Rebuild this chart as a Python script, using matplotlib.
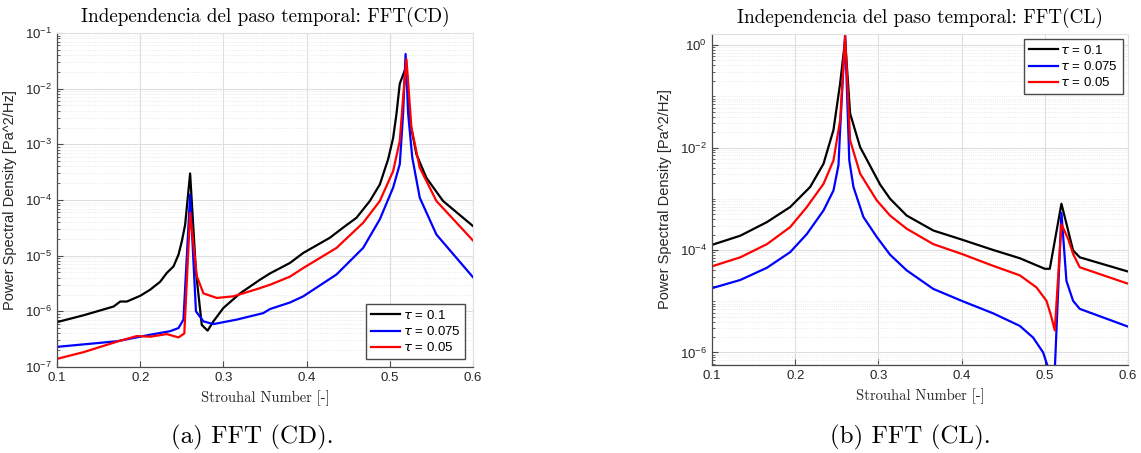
import numpy as np
import matplotlib
matplotlib.use("Agg")
import matplotlib.pyplot as plt
from matplotlib.ticker import FixedLocator, LogLocator, LogFormatterSciNotation, NullFormatter

#################
# DATA
#################

# FFT(CD)
st_cd_01 = [0.100, 0.132, 0.168, 0.176, 0.184, 0.200, 0.212, 0.224, 0.232, 0.240, 0.246, 0.250,
            0.254, 0.260, 0.267, 0.274, 0.281, 0.288, 0.300, 0.320, 0.344, 0.356, 0.380, 0.396,
            0.428, 0.444, 0.460, 0.476, 0.488, 0.498, 0.504, 0.508, 0.512, 0.518, 0.520, 0.524,
            0.532, 0.544, 0.564, 0.600]
psd_cd_01 = [6.4e-7, 8.5e-7, 1.22e-6, 1.5e-6, 1.5e-6, 1.9e-6, 2.45e-6, 3.4e-6, 4.9e-6, 6.4e-6,
             1.04e-5, 1.8e-5, 3.6e-5, 3.0e-4, 5.2e-6, 5.7e-7, 4.5e-7, 6.6e-7, 1.15e-6, 2.1e-6,
             3.7e-6, 4.8e-6, 7.4e-6, 1.12e-5, 2.1e-5, 3.2e-5, 4.8e-5, 9.6e-5, 1.9e-4, 5.4e-4,
             1.3e-3, 3.5e-3, 1.23e-2, 2.13e-2, 2.6e-2, 2.7e-3, 6.6e-4, 2.5e-4, 9.6e-5, 3.4e-5]

st_cd_0075 = [0.100, 0.132, 0.172, 0.212, 0.236, 0.246, 0.252, 0.260, 0.267, 0.276, 0.288, 0.316,
              0.348, 0.356, 0.380, 0.396, 0.436, 0.468, 0.488, 0.504, 0.512, 0.516, 0.519, 0.522,
              0.527, 0.536, 0.556, 0.600]
psd_cd_0075 = [2.3e-7, 2.55e-7, 2.9e-7, 3.8e-7, 4.4e-7, 5.0e-7, 7.1e-7, 1.26e-4, 1.0e-6, 6.6e-7,
               5.9e-7, 7.1e-7, 9.3e-7, 1.1e-6, 1.44e-6, 1.86e-6, 4.6e-6, 1.38e-5, 4.5e-5, 1.67e-4,
               4.4e-4, 3.6e-3, 4.2e-2, 3.6e-3, 5.8e-4, 1.1e-4, 2.4e-5, 4.1e-6]

st_cd_005 = [0.100, 0.132, 0.172, 0.196, 0.212, 0.232, 0.246, 0.253, 0.260, 0.268, 0.276, 0.292,
             0.312, 0.340, 0.356, 0.380, 0.396, 0.436, 0.468, 0.488, 0.504, 0.512, 0.516, 0.520,
             0.526, 0.536, 0.556, 0.600]
psd_cd_005 = [1.4e-7, 1.85e-7, 2.85e-7, 3.6e-7, 3.5e-7, 3.9e-7, 3.4e-7, 4.0e-7, 5.9e-5, 4.3e-6,
              2.1e-6, 1.74e-6, 1.86e-6, 2.5e-6, 3.0e-6, 4.2e-6, 6.0e-6, 1.38e-5, 3.9e-5, 9.6e-5,
              3.3e-4, 1.15e-3, 7.0e-3, 3.4e-2, 2.0e-3, 3.8e-4, 9.6e-5, 1.87e-5]

# FFT(CL)
st_cl_01 = [0.100, 0.134, 0.166, 0.194, 0.218, 0.234, 0.246, 0.254, 0.260, 0.266, 0.278, 0.302,
            0.314, 0.334, 0.366, 0.400, 0.438, 0.470, 0.500, 0.506, 0.520, 0.534, 0.542, 0.600]
psd_cl_01 = [1.26e-4, 1.9e-4, 3.5e-4, 6.9e-4, 1.7e-3, 4.8e-3, 2.2e-2, 0.178, 1.25, 4.6e-2,
             1.02e-2, 1.9e-3, 1.0e-3, 4.7e-4, 2.4e-4, 1.6e-4, 1.0e-4, 6.9e-5, 4.3e-5, 4.3e-5,
             8.0e-4, 9.8e-5, 7.2e-5, 3.8e-5]

st_cl_0075 = [0.100, 0.134, 0.166, 0.194, 0.214, 0.234, 0.246, 0.252, 0.254, 0.260, 0.265, 0.270,
              0.282, 0.298, 0.314, 0.334, 0.366, 0.400, 0.438, 0.470, 0.486, 0.498, 0.505, 0.512,
              0.520, 0.526, 0.534, 0.542, 0.600]
psd_cl_0075 = [1.8e-5, 2.6e-5, 4.5e-5, 9.1e-5, 2.05e-4, 5.9e-4, 1.45e-3, 4.5e-3, 2.2e-2, 1.6,
               5.6e-3, 1.7e-3, 4.4e-4, 1.8e-4, 8.1e-5, 4.0e-5, 1.74e-5, 1.02e-5, 5.8e-6, 3.3e-6,
               1.95e-6, 1.0e-6, 4.5e-7, 4.5e-7, 5.3e-4, 2.5e-5, 1.02e-5, 7.1e-6, 3.2e-6]

st_cl_005 = [0.100, 0.134, 0.166, 0.194, 0.214, 0.234, 0.246, 0.254, 0.260, 0.266, 0.278, 0.298,
             0.314, 0.334, 0.366, 0.400, 0.438, 0.470, 0.490, 0.502, 0.507, 0.512, 0.520, 0.528,
             0.534, 0.542, 0.600]
psd_cl_005 = [4.8e-5, 7.2e-5, 1.3e-4, 2.8e-4, 6.9e-4, 1.95e-3, 5.6e-3, 3.4e-2, 1.5, 1.38e-2,
              3.1e-3, 9.3e-4, 4.7e-4, 2.6e-4, 1.3e-4, 8.4e-5, 4.9e-5, 3.2e-5, 1.86e-5, 1.02e-5,
              5.6e-6, 2.7e-6, 3.2e-4, 1.65e-4, 8.4e-5, 4.6e-5, 2.2e-5]

labels = [r"$\mathit{\tau}$ = 0.1", r"$\mathit{\tau}$ = 0.075", r"$\mathit{\tau}$ = 0.05"]
colors = ["black", "blue", "red"]

#################
# PLOTTING
#################

plt.rcParams["font.family"] = ["Liberation Sans", "DejaVu Sans"]
plt.rcParams["mathtext.default"] = "regular"
plt.rcParams["axes.unicode_minus"] = False

fig = plt.figure(figsize=(11.41, 4.53), dpi=100)
ax_cd = fig.add_axes([57 / 1141, 1 - 367 / 453, 416 / 1141, 334 / 453])
ax_cl = fig.add_axes([712 / 1141, 1 - 365 / 453, 416 / 1141, 331 / 453])

serif = "cmr10"
axis_col = "#4a4a4a"


def style(ax):
    ax.set_yscale("log")
    ax.set_xlim(0.1, 0.6)
    ax.set_xticks([0.1, 0.2, 0.3, 0.4, 0.5, 0.6])
    ax.grid(True, which="major", color="#dedede", lw=0.8)
    ax.yaxis.grid(True, which="minor", color="#e3e3e3", lw=0.6, ls=":")
    ax.set_axisbelow(True)
    for s in ["left", "bottom"]:
        ax.spines[s].set_color(axis_col)
        ax.spines[s].set_linewidth(0.9)
    for s in ["top", "right"]:
        ax.spines[s].set_color("#e0e0e0")
        ax.spines[s].set_linewidth(0.8)
    ax.tick_params(which="both", direction="in", colors=axis_col, labelcolor="#262626",
                   labelsize=9.5, top=False, right=False)
    ax.tick_params(which="major", length=4)
    ax.tick_params(which="minor", length=2)
    ax.set_xlabel("Strouhal Number [-]", family=serif, fontsize=10.5, color="#262626")
    ax.xaxis.set_label_coords(0.5, -0.07)
    ax.set_ylabel("Power Spectral Density [Pa^2/Hz]", fontsize=10.5, color="#262626")
    ax.yaxis.set_label_coords(-0.095, 0.5)


# CD
for st, psd, lab, c in zip([st_cd_01, st_cd_0075, st_cd_005],
                           [psd_cd_01, psd_cd_0075, psd_cd_005], labels, colors):
    ax_cd.plot(st, psd, color=c, lw=1.6, label=lab)
style(ax_cd)
ax_cd.set_ylim(1e-7, 1e-1)
ax_cd.yaxis.set_major_locator(FixedLocator([10.0 ** e for e in range(-7, 0)]))
ax_cd.yaxis.set_minor_locator(LogLocator(base=10, subs=np.arange(2, 10), numticks=20))
ax_cd.yaxis.set_major_formatter(LogFormatterSciNotation())
ax_cd.yaxis.set_minor_formatter(NullFormatter())
ax_cd.set_title("Independencia del paso temporal: FFT(CD)", family=serif, fontsize=13.8, pad=8)
ax_cd.legend(loc="lower right", fontsize=9.5, frameon=True, fancybox=False, framealpha=1,
             edgecolor=axis_col, handlelength=2.2, handletextpad=0.2, borderpad=0.35,
             labelspacing=0.25, borderaxespad=0.6)

# CL
for st, psd, lab, c in zip([st_cl_01, st_cl_0075, st_cl_005],
                           [psd_cl_01, psd_cl_0075, psd_cl_005], labels, colors):
    ax_cl.plot(st, psd, color=c, lw=1.6, label=lab)
style(ax_cl)
ax_cl.set_ylim(5.7e-7, 1.64)
ax_cl.yaxis.set_major_locator(FixedLocator([1e-6, 1e-4, 1e-2, 1e0]))
ax_cl.yaxis.set_minor_locator(LogLocator(base=10, subs=np.arange(1, 10), numticks=20))
ax_cl.yaxis.set_major_formatter(LogFormatterSciNotation())
ax_cl.yaxis.set_minor_formatter(NullFormatter())
ax_cl.set_title("Independencia del paso temporal: FFT(CL)", family=serif, fontsize=13.8, pad=8)
ax_cl.legend(loc="upper right", fontsize=9.5, frameon=True, fancybox=False, framealpha=1,
             edgecolor=axis_col, handlelength=2.2, handletextpad=0.2, borderpad=0.35,
             labelspacing=0.25, borderaxespad=0.4)

fig.text(252 / 1141, 1 - 437 / 453, "(a) FFT (CD).", family=serif, fontsize=18,
         ha="center", va="center")
fig.text(910 / 1141, 1 - 437 / 453, "(b) FFT (CL).", family=serif, fontsize=18,
         ha="center", va="center")

plt.savefig("out.png", dpi=100)
